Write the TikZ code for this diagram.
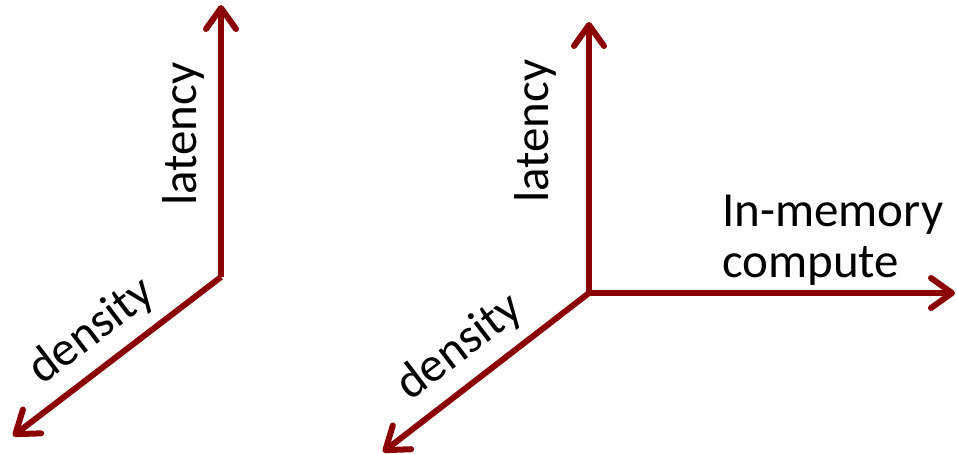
\documentclass[tikz,border=0pt]{standalone}
\usepackage{fontspec}
\setmainfont{Carlito}
\usetikzlibrary{arrows.meta}
\definecolor{axisred}{RGB}{139,0,0}
\tikzset{
  axis/.style={draw=axisred, line width=6pt, line cap=butt,
    -{Straight Barb[length=21pt,width=30pt,line cap=round,line join=round]}},
  lbl/.style={inner sep=0pt, font=\fontsize{49}{51}\selectfont, text=black}
}
\begin{document}
\begin{tikzpicture}[x=1pt,y=-1pt]
\useasboundingbox (0,0) rectangle (957,454);
% left axes
\coordinate (O1) at (221,277);
\coordinate (T1) at (221,5);
\coordinate (D1) at (13,436);
\draw[axis] (O1) -- (T1);
\draw[axis] (O1) -- (D1);
\node[lbl, rotate=90, anchor=base west] (lat1) at (196,206) {latency};
\node[lbl, rotate=37.3, anchor=base west] (den1) at (42,386) {density};
% right axes
\coordinate (O2) at (589,293);
\coordinate (T2) at (589,22);
\coordinate (R2) at (955,293);
\coordinate (D2) at (383,452);
\draw[axis] (O2) -- (T2);
\draw[axis] (O2) -- (R2);
\draw[axis] (O2) -- (D2);
\node[lbl, rotate=90, anchor=base west] (lat2) at (548,203) {latency};
\node[lbl, rotate=37.3, anchor=base west] (den2) at (410,402) {density};
\node[lbl, align=left, anchor=north west] (imc) at (722,195) {In-memory\\compute};
\end{tikzpicture}
\end{document}
